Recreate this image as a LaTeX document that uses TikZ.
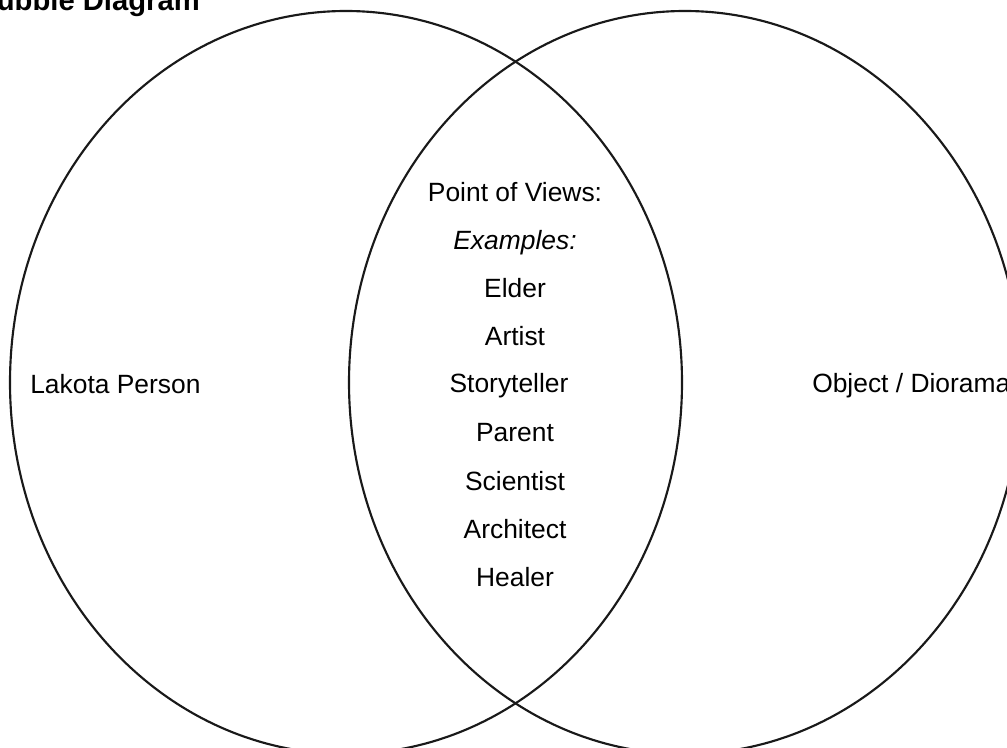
\documentclass[tikz,border=0pt]{standalone}
\usepackage{fontspec}
\setmainfont{Liberation Sans}
\usepackage{tikz}

\tikzset{
    bubble/.style={draw, line width=1.6pt, color=black!90},
    label/.style={anchor=base, inner sep=0pt, font=\fontsize{19.8}{24}\selectfont},
    heading/.style={anchor=base east, inner sep=0pt, font=\fontsize{21.9}{26}\selectfont\bfseries}
}

\begin{document}
\begin{tikzpicture}[x=0.75pt, y=-0.75pt]
            \useasboundingbox (0,0) rectangle (1007,748);

            \draw[bubble] (346,382.5) ellipse [x radius=336, y radius=371.5];
            \draw[bubble] (685,382.5) ellipse [x radius=336, y radius=371.5];

            \node[heading] (title) at (200,11) {Double Bubble Diagram};

            \node[label, anchor=base west] (person) at (30,394) {Lakota Person};
            \node[label, anchor=base west] (object) at (812,393) {Object / Diorama};

            \node[label] (views) at (515,202) {Point of Views:};
            \node[label] (examples) at (515,250) {\itshape Examples:};
            \foreach \n/\y/\x in {Elder/298/515, Artist/346/515, Storyteller/393/509,
                                  Parent/442/515, Scientist/490/515, Architect/538/515, Healer/586/515}
                \node[label] (\n) at (\x,\y) {\n};
         \end{tikzpicture}
\end{document}
